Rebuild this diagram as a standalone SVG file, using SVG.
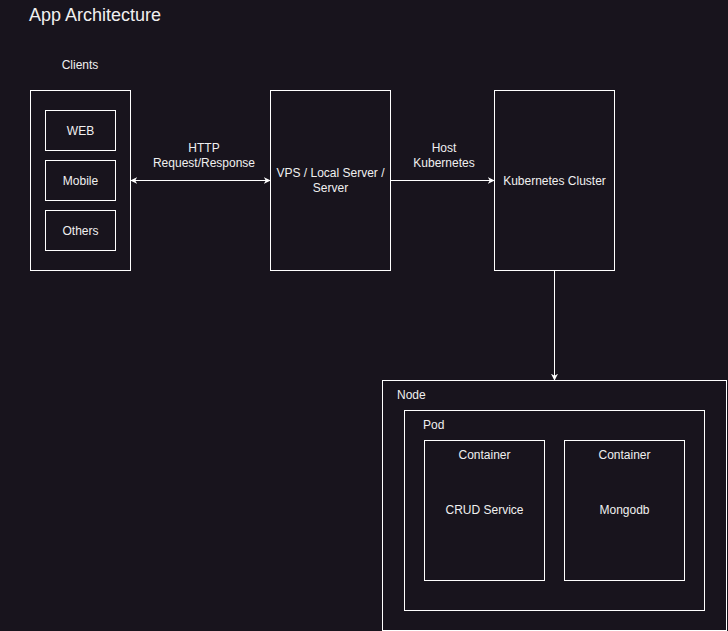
<svg xmlns="http://www.w3.org/2000/svg" width="728" height="631" viewBox="0 0 728 631">
<style>
.box{fill:#18141d;stroke:#ffffff;stroke-width:1}
.t{font-family:"Liberation Sans",Arial,sans-serif;font-size:12px;fill:#f0f0f0}
.c{text-anchor:middle}
.edge{fill:none;stroke:#ffffff;stroke-width:1}
</style>
<defs>
<marker id="ah" viewBox="0 0 10 10" refX="9" refY="5" markerWidth="7" markerHeight="7" markerUnits="userSpaceOnUse" orient="auto-start-reverse">
<path d="M0,0 L10,5 L0,10 L3,5 Z" fill="#ffffff"/>
</marker>
</defs>
<rect x="0" y="0" width="728" height="631" fill="#18141d"/>
<text x="29" y="21" font-family="'Liberation Sans',Arial,sans-serif" font-size="18" fill="#f0f0f0">App Architecture</text>
<g id="clients">
<text class="t c" x="80" y="69">Clients</text>
<rect class="box" x="30.5" y="90.5" width="100" height="180"/>
</g>
<g id="web">
<rect class="box" x="45.5" y="110.5" width="70" height="40"/>
<text class="t c" x="80.5" y="134.5">WEB</text>
</g>
<g id="mobile">
<rect class="box" x="45.5" y="160.5" width="70" height="40"/>
<text class="t c" x="80.5" y="184.5">Mobile</text>
</g>
<g id="others">
<rect class="box" x="45.5" y="210.5" width="70" height="40"/>
<text class="t c" x="80.5" y="234.5">Others</text>
</g>
<g id="vps">
<rect class="box" x="270.5" y="90.5" width="120" height="180"/>
<text class="t c" x="330.5" y="177">VPS / Local Server /</text>
<text class="t c" x="330.5" y="192">Server</text>
</g>
<g id="k8s">
<rect class="box" x="494.5" y="90.5" width="120" height="180"/>
<text class="t c" x="554.5" y="184.5">Kubernetes Cluster</text>
</g>
<g id="node">
<rect class="box" x="382.5" y="380.5" width="344" height="250"/>
<text class="t" x="397" y="399">Node</text>
</g>
<g id="pod">
<rect class="box" x="404.5" y="410.5" width="300" height="200"/>
<text class="t" x="423" y="429">Pod</text>
</g>
<g id="container-crud">
<rect class="box" x="424.5" y="440.5" width="120" height="140"/>
<text class="t c" x="484.5" y="459">Container</text>
<text class="t c" x="484.5" y="514">CRUD Service</text>
</g>
<g id="container-mongo">
<rect class="box" x="564.5" y="440.5" width="120" height="140"/>
<text class="t c" x="624.5" y="459">Container</text>
<text class="t c" x="624.5" y="514">Mongodb</text>
</g>
<g id="connectors">
<path class="edge" d="M131,180.5 L270,180.5" marker-start="url(#ah)" marker-end="url(#ah)"/>
<text class="t c" x="204" y="152">HTTP</text>
<text class="t c" x="204" y="167">Request/Response</text>
<path class="edge" d="M391,180.5 L494,180.5" marker-end="url(#ah)"/>
<text class="t c" x="444" y="152">Host</text>
<text class="t c" x="444" y="167">Kubernetes</text>
<path class="edge" d="M554.5,271 L554.5,380" marker-end="url(#ah)"/>
</g>
</svg>
